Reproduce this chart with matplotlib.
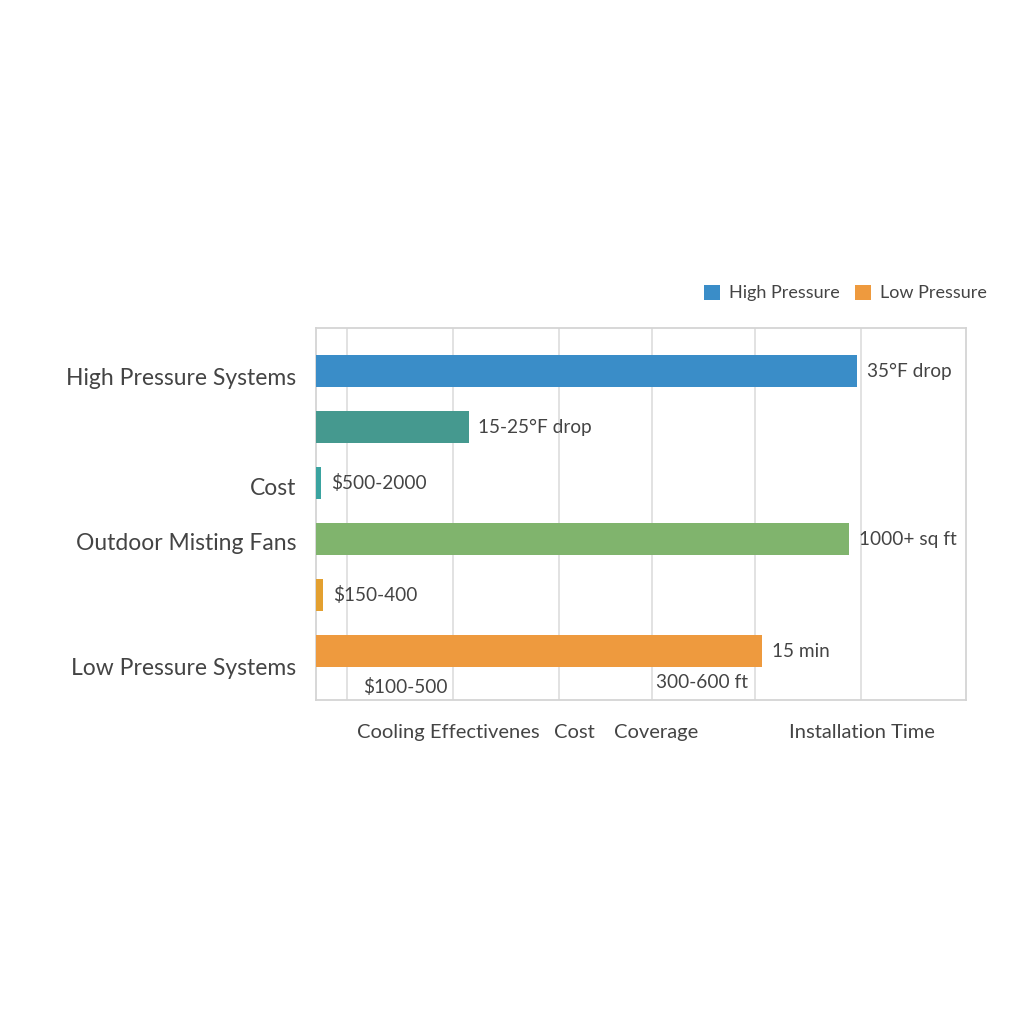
import matplotlib
matplotlib.use("Agg")
import matplotlib.pyplot as plt
from matplotlib.patches import Patch

plt.rcParams['font.family'] = ['Lato', 'DejaVu Sans']

# ---- data ----
bar_values = [83.2, 23.5, 0.8, 82.0, 1.1, 68.6]
bar_texts = ["35°F drop", "15-25°F drop", "$500-2000", "1000+ sq ft", "$150-400", "15 min"]
bar_colors = ["#3a8dc8", "#45998f", "#3aa3a0", "#80b46d", "#e3a030", "#ee9a3e"]

y_labels = ["High Pressure Systems", "Cost", "Outdoor Misting Fans", "Low Pressure Systems"]
y_label_pos = [0.1, 2.06, 3.05, 5.27]

x_categories = ["Cooling Effectivenes", "Cost", "Coverage", "Installation Time"]
x_category_pos = [20.3, 39.8, 52.3, 84.0]

grid_pos = [4.8, 21.1, 37.4, 51.7, 67.5, 83.8]

extra_texts = ["$100-500", "300-600 ft"]
extra_x = [13.7, 59.4]
extra_y = [5.65, 5.57]

legend_labels = ["High Pressure", "Low Pressure"]
legend_colors = ["#3a8dc8", "#ee9a3e"]

text_color = "#444444"

fig = plt.figure(figsize=(10.24, 10.24), dpi=100)
ax = fig.add_axes([316/1024, 1 - 700/1024, 650/1024, 372/1024])

ypos = list(range(len(bar_values)))
ax.barh(ypos, bar_values, height=0.57, color=bar_colors, zorder=3)

for y, v, t in zip(ypos, bar_values, bar_texts):
    ax.annotate(t, (v, y), xytext=(7, 0), textcoords="offset points",
                va="center", ha="left", fontsize=13.7, color=text_color, zorder=4)

for t, x, y in zip(extra_texts, extra_x, extra_y):
    ax.text(x, y, t, ha="center", va="center", fontsize=13.7, color=text_color, zorder=4)

ax.set_xlim(0, 100)
ax.set_ylim(5.875, -0.77)

ax.set_xticks(grid_pos)
ax.set_xticklabels([])
ax.set_xticks(x_category_pos, minor=True)
ax.set_xticklabels(x_categories, minor=True, fontsize=14.5, color=text_color)
ax.tick_params(axis="x", which="both", length=0, pad=17)
ax.grid(axis="x", which="major", color="#dddddd", linewidth=1.2, zorder=0)

ax.set_yticks(y_label_pos)
ax.set_yticklabels(y_labels, fontsize=16.5, color=text_color)
ax.tick_params(axis="y", length=0, pad=14)

for s in ax.spines.values():
    s.set_color("#d4d4d4")
    s.set_linewidth(1.3)

handles = [Patch(facecolor=c, label=l) for c, l in zip(legend_colors, legend_labels)]
leg = fig.legend(handles=handles, loc="center right", bbox_to_anchor=(1003/1024, 1 - 293/1024),
                 ncol=2, frameon=False, fontsize=13, handlelength=0.9, handleheight=0.9,
                 handletextpad=0.5, columnspacing=0.8, labelcolor=text_color)

fig.savefig("out.png", dpi=100, facecolor="white")
